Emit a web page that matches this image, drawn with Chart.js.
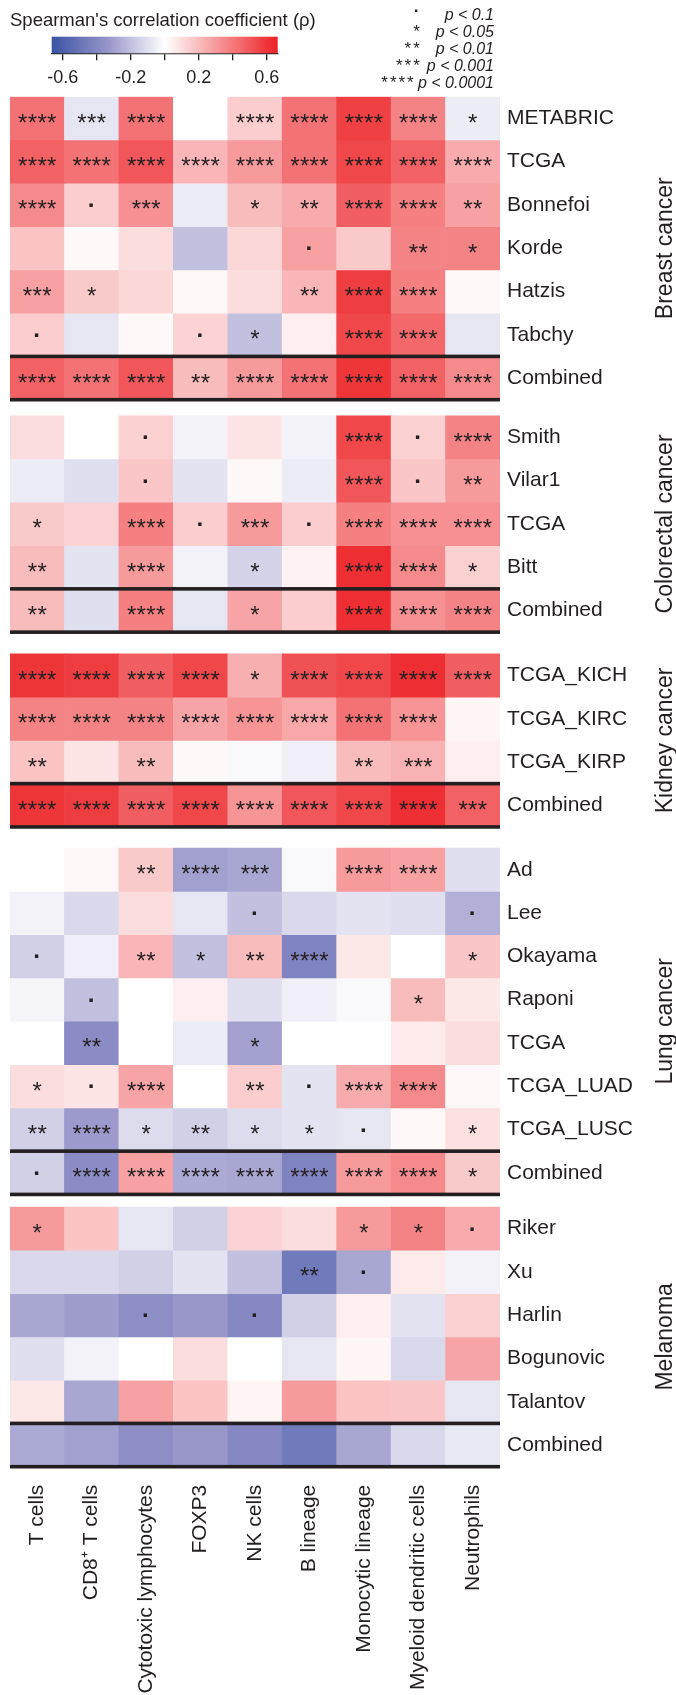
<!DOCTYPE html>
<html>
<head>
<meta charset="utf-8">
<script src="https://cdn.jsdelivr.net/npm/chart.js@4.4.1/dist/chart.umd.min.js"></script>
<style>
  html, body { margin: 0; padding: 0; background: #fff; }
  #wrap { position: relative; width: 676px; height: 1695px; }
  #wrap canvas { position: absolute; left: 0; top: 0; }
</style>
</head>
<body>
<div id="wrap">
  <canvas id="heat" width="676" height="1695"></canvas>
  <canvas id="scale" width="676" height="96"></canvas>
</div>
<script>
// ---- data ----
const cellTypes = ['T cells', 'CD8\u207A T cells', 'Cytotoxic lymphocytes', 'FOXP3', 'NK cells',
  'B lineage', 'Monocytic lineage', 'Myeloid dendritic cells', 'Neutrophils'];

const groupNames = ['Breast cancer', 'Colorectal cancer', 'Kidney cancer', 'Lung cancer', 'Melanoma'];

const breastRows = ['METABRIC', 'TCGA', 'Bonnefoi', 'Korde', 'Hatzis', 'Tabchy', 'Combined'];
const breastRho = [
  [0.42, -0.08, 0.42, 0.00, 0.15, 0.42, 0.57, 0.37, -0.06],
  [0.47, 0.42, 0.50, 0.22, 0.30, 0.42, 0.55, 0.47, 0.25],
  [0.35, 0.15, 0.33, -0.06, 0.20, 0.25, 0.48, 0.38, 0.28],
  [0.18, 0.02, 0.10, -0.20, 0.12, 0.28, 0.16, 0.37, 0.37],
  [0.28, 0.16, 0.12, 0.02, 0.10, 0.22, 0.58, 0.38, 0.02],
  [0.15, -0.08, 0.02, 0.13, -0.20, 0.05, 0.55, 0.45, -0.08],
  [0.47, 0.42, 0.50, 0.20, 0.30, 0.42, 0.60, 0.47, 0.35]
];
const breastSig = [
  ['****', '***', '****', '', '****', '****', '****', '****', '*'],
  ['****', '****', '****', '****', '****', '****', '****', '****', '****'],
  ['****', '.', '***', '', '*', '**', '****', '****', '**'],
  ['', '', '', '', '', '.', '', '**', '*'],
  ['***', '*', '', '', '', '**', '****', '****', ''],
  ['.', '', '', '.', '*', '', '****', '****', ''],
  ['****', '****', '****', '**', '****', '****', '****', '****', '****']
];

const colorectalRows = ['Smith', 'Vilar1', 'TCGA', 'Bitt', 'Combined'];
const colorectalRho = [
  [0.10, 0.00, 0.14, -0.04, 0.08, -0.04, 0.55, 0.14, 0.37],
  [-0.06, -0.10, 0.17, -0.09, 0.02, -0.06, 0.50, 0.17, 0.30],
  [0.16, 0.13, 0.38, 0.15, 0.30, 0.15, 0.38, 0.33, 0.33],
  [0.20, -0.09, 0.30, -0.04, -0.14, 0.04, 0.62, 0.35, 0.14],
  [0.20, -0.10, 0.38, -0.08, 0.27, 0.15, 0.62, 0.33, 0.37]
];
const colorectalSig = [
  ['', '', '.', '', '', '', '****', '.', '****'],
  ['', '', '.', '', '', '', '****', '.', '**'],
  ['*', '', '****', '.', '***', '.', '****', '****', '****'],
  ['**', '', '****', '', '*', '', '****', '****', '*'],
  ['**', '', '****', '', '*', '', '****', '****', '****']
];

const kidneyRows = ['TCGA_KICH', 'TCGA_KIRC', 'TCGA_KIRP', 'Combined'];
const kidneyRho = [
  [0.60, 0.58, 0.48, 0.55, 0.24, 0.52, 0.55, 0.62, 0.48],
  [0.37, 0.37, 0.37, 0.27, 0.32, 0.26, 0.42, 0.32, 0.03],
  [0.18, 0.08, 0.20, 0.02, -0.02, -0.05, 0.20, 0.23, 0.05],
  [0.60, 0.58, 0.48, 0.55, 0.32, 0.50, 0.55, 0.62, 0.47]
];
const kidneySig = [
  ['****', '****', '****', '****', '*', '****', '****', '****', '****'],
  ['****', '****', '****', '****', '****', '****', '****', '****', ''],
  ['**', '', '**', '', '', '', '**', '***', ''],
  ['****', '****', '****', '****', '****', '****', '****', '****', '***']
];

const lungRows = ['Ad', 'Lee', 'Okayama', 'Raponi', 'TCGA', 'TCGA_LUAD', 'TCGA_LUSC', 'Combined'];
const lungRho = [
  [0.00, 0.02, 0.16, -0.30, -0.28, -0.02, 0.30, 0.28, -0.10],
  [-0.04, -0.12, 0.10, -0.08, -0.20, -0.12, -0.09, -0.10, -0.25],
  [-0.15, -0.05, 0.22, -0.20, 0.20, -0.42, 0.07, 0.00, 0.17],
  [-0.03, -0.20, 0.00, 0.05, -0.10, -0.05, -0.02, 0.20, 0.07],
  [0.00, -0.38, 0.00, -0.06, -0.30, 0.00, 0.00, 0.06, 0.10],
  [0.10, 0.08, 0.27, 0.00, 0.15, -0.09, 0.25, 0.35, 0.02],
  [-0.15, -0.32, -0.11, -0.15, -0.11, -0.09, -0.08, 0.02, 0.09],
  [-0.15, -0.38, 0.28, -0.27, -0.28, -0.42, 0.30, 0.35, 0.16]
];
const lungSig = [
  ['', '', '**', '****', '***', '', '****', '****', ''],
  ['', '', '', '', '.', '', '', '', '.'],
  ['.', '', '**', '*', '**', '****', '', '', '*'],
  ['', '.', '', '', '', '', '', '*', ''],
  ['', '**', '', '', '*', '', '', '', ''],
  ['*', '.', '****', '', '**', '.', '****', '****', ''],
  ['**', '****', '*', '**', '*', '*', '.', '', '*'],
  ['.', '****', '****', '****', '****', '****', '****', '****', '*']
];

const melanomaRows = ['Riker', 'Xu', 'Harlin', 'Bogunovic', 'Talantov', 'Combined'];
const melanomaRho = [
  [0.30, 0.18, -0.08, -0.15, 0.13, 0.10, 0.30, 0.37, 0.25],
  [-0.12, -0.12, -0.15, -0.09, -0.20, -0.47, -0.28, 0.06, -0.04],
  [-0.28, -0.31, -0.37, -0.33, -0.40, -0.15, 0.05, -0.09, 0.14],
  [-0.10, -0.04, 0.00, 0.10, 0.00, -0.08, 0.03, -0.12, 0.27],
  [0.07, -0.28, 0.28, 0.18, 0.03, 0.30, 0.18, 0.17, -0.08],
  [-0.27, -0.30, -0.37, -0.33, -0.40, -0.47, -0.28, -0.12, -0.07]
];
const melanomaSig = [
  ['*', '', '', '', '', '', '*', '*', '.'],
  ['', '', '', '', '', '**', '.', '', ''],
  ['', '', '.', '', '.', '', '', '', ''],
  ['', '', '', '', '', '', '', '', ''],
  ['', '', '', '', '', '', '', '', ''],
  ['', '', '', '', '', '', '', '', '']
];

const colorbarTicks = [-0.6, -0.4, -0.2, 0, 0.2, 0.4, 0.6];
const colorbarLabels = [-0.6, -0.2, 0.2, 0.6];
const sigLegend = [['.', 'p < 0.1'], ['*', 'p < 0.05'], ['**', 'p < 0.01'], ['***', 'p < 0.001'], ['****', 'p < 0.0001']];

// ---- layout / style ----
const F = "'Liberation Sans', Arial, Helvetica, sans-serif";
const INK = '#231f20';
const RHO_MAX = 0.665;
const GROUP_GAPS = [0.37, 0.5, 0.49, 0.29];   // blank space between groups, in rows
const AREA = { left: 10, right: 500, top: 96.7, bottom: 1466.7 };

const WHITE = [255, 255, 255], RED = [236, 32, 36], BLUE_MID = [152, 150, 202], BLUE = [58, 83, 164];
const mix = (a, b, t) => a.map((v, i) => Math.round(v + (b[i] - v) * t));
function colorFor(v) {
  let t = Math.max(-1, Math.min(1, v / RHO_MAX));
  let c;
  if (t >= 0) c = mix(WHITE, RED, t);
  else {
    t = -t;
    c = t < 0.5 ? mix(WHITE, BLUE_MID, t / 0.5) : mix(BLUE_MID, BLUE, (t - 0.5) / 0.5);
  }
  return `rgb(${c[0]},${c[1]},${c[2]})`;
}

// flatten groups into rows with their y start (row units)
const groupRows = [breastRows, colorectalRows, kidneyRows, lungRows, melanomaRows];
const groupRho = [breastRho, colorectalRho, kidneyRho, lungRho, melanomaRho];
const groupSig = [breastSig, colorectalSig, kidneySig, lungSig, melanomaSig];
const rows = [], groupSpans = [];
let yCur = 0;
groupRows.forEach((names, g) => {
  groupSpans.push({ name: groupNames[g], start: yCur, n: names.length });
  names.forEach((name, r) => {
    rows.push({ label: name, y0: yCur, rho: groupRho[g][r], sig: groupSig[g][r] });
    yCur += 1;
  });
  if (g < GROUP_GAPS.length) yCur += GROUP_GAPS[g];
});
const yMax = yCur;

// draws "*", "**", ... or a dot centred at (cx, cy)
function drawSig(ctx, sig, cx, cy, size, step) {
  if (!sig) return;
  const glyph = sig === '.' ? '\u00B7' : '*';
  const n = sig === '.' ? 1 : sig.length;
  ctx.font = (sig === '.' ? 'bold ' : '') + `${size}px ${F}`;
  const m = ctx.measureText(glyph);
  const base = cy + (m.actualBoundingBoxAscent - m.actualBoundingBoxDescent) / 2;
  ctx.textAlign = 'center';
  ctx.textBaseline = 'alphabetic';
  for (let i = 0; i < n; i++) ctx.fillText(glyph, cx + (i - (n - 1) / 2) * step, base);
}

const heatDecor = {
  id: 'heatDecor',
  afterDatasetsDraw(chart) {
    const { ctx, chartArea: a, scales: { y } } = chart;
    ctx.save();
    ctx.fillStyle = INK;
    // significance marks
    chart.data.datasets.forEach((ds, i) => {
      chart.getDatasetMeta(i).data.forEach((bar, j) => {
        drawSig(ctx, rows[i].sig[j], bar.x, (bar.y + bar.base) / 2, 24, 9.7);
      });
    });
    // thick rules above and below each "Combined" row
    groupSpans.forEach(s => {
      [s.start + s.n - 1, s.start + s.n].forEach(v => {
        const py = y.getPixelForValue(v);
        ctx.fillRect(a.left, py - 1.8, a.width, 3.6);
      });
    });
    // group names, rotated
    ctx.font = `23px ${F}`;
    ctx.textAlign = 'center';
    ctx.textBaseline = 'alphabetic';
    groupSpans.forEach(s => {
      const cy = (y.getPixelForValue(s.start) + y.getPixelForValue(s.start + s.n)) / 2;
      ctx.save();
      ctx.translate(672, cy);
      ctx.rotate(-Math.PI / 2);
      ctx.fillText(s.name, 0, 0);
      ctx.restore();
    });
    ctx.restore();
  }
};

new Chart(document.getElementById('heat'), {
  type: 'bar',
  data: {
    labels: cellTypes,
    datasets: rows.map(r => ({
      label: r.label,
      data: cellTypes.map(() => [r.y0, r.y0 + 1]),
      backgroundColor: r.rho.map(colorFor),
      borderWidth: 0,
      grouped: false,
      barPercentage: 1,
      categoryPercentage: 1
    }))
  },
  options: {
    responsive: false, animation: false,
    layout: { padding: { top: AREA.top, left: AREA.left, right: 0, bottom: 0 } },
    plugins: { legend: { display: false }, tooltip: { enabled: false } },
    scales: {
      x: {
        type: 'category', position: 'bottom',
        grid: { display: false, drawTicks: false }, border: { display: false },
        ticks: { color: INK, font: { family: F, size: 21 }, minRotation: 90, maxRotation: 90, autoSkip: false, padding: 18 },
        afterFit: s => { s.height = 1695 - AREA.bottom; }
      },
      y: {
        type: 'linear', position: 'right', reverse: true, min: 0, max: yMax,
        grid: { display: false, drawTicks: false }, border: { display: false },
        afterBuildTicks: s => { s.ticks = rows.map(r => ({ value: r.y0 + 0.5 })); },
        ticks: { color: INK, font: { family: F, size: 21 }, padding: 7, autoSkip: false, callback: (v, i) => rows[i] ? rows[i].label : '' },
        afterFit: s => { s.width = 676 - AREA.right; }
      }
    }
  },
  plugins: [heatDecor]
});

// ---- colour bar + significance key ----
const cbDecor = {
  id: 'cbDecor',
  beforeDatasetsDraw(chart) {
    const { ctx, chartArea: a, scales: { x } } = chart;
    const g = ctx.createLinearGradient(x.getPixelForValue(-RHO_MAX), 0, x.getPixelForValue(RHO_MAX), 0);
    for (let k = 0; k <= 40; k++) g.addColorStop(k / 40, colorFor(-RHO_MAX + k * 2 * RHO_MAX / 40));
    ctx.save();
    ctx.fillStyle = g;
    ctx.fillRect(a.left, a.top, a.width, a.height);
    ctx.restore();
  },
  afterDraw(chart) {
    const { ctx } = chart;
    ctx.save();
    ctx.fillStyle = INK;
    ctx.font = `18.5px ${F}`;
    ctx.textAlign = 'left';
    ctx.textBaseline = 'alphabetic';
    ctx.fillText("Spearman's correlation coefficient (\u03C1)", 10, 25.5);
    sigLegend.forEach(([sig, txt], i) => {
      const cy = 15.5 + i * 17.1;
      ctx.font = `italic 16px ${F}`;
      ctx.textAlign = 'right';
      ctx.textBaseline = 'middle';
      ctx.fillText(txt, 494, cy);
      const tw = ctx.measureText(txt).width;
      const n = sig === '.' ? 1 : sig.length;
      const right = Math.min(420, 494 - tw - 4);
      drawSig(ctx, sig, right - 3.5 - (n - 1) * 4.3, cy, 17, 8.6);
    });
    ctx.restore();
  }
};

new Chart(document.getElementById('scale'), {
  type: 'scatter',
  data: { datasets: [{ data: [] }] },
  options: {
    responsive: false, animation: false,
    layout: { padding: { left: 51.7, right: 676 - 277.7, top: 36.7, bottom: 0 } },
    plugins: { legend: { display: false }, tooltip: { enabled: false } },
    scales: {
      x: {
        type: 'linear', min: -RHO_MAX, max: RHO_MAX,
        afterBuildTicks: s => { s.ticks = colorbarTicks.map(v => ({ value: v })); },
        grid: { display: true, drawOnChartArea: false, drawTicks: true, tickLength: 7, color: INK, lineWidth: 1.3 },
        border: { display: true, color: INK, width: 1.3 },
        ticks: {
          color: INK, font: { family: F, size: 18 }, padding: 7, autoSkip: false, maxRotation: 0,
          callback: v => colorbarLabels.some(l => Math.abs(l - v) < 1e-6) ? v.toFixed(1) : ''
        },
        afterFit: s => { s.height = 96 - 53.3; }
      },
      y: { display: false }
    }
  },
  plugins: [cbDecor]
});
</script>
</body>
</html>
